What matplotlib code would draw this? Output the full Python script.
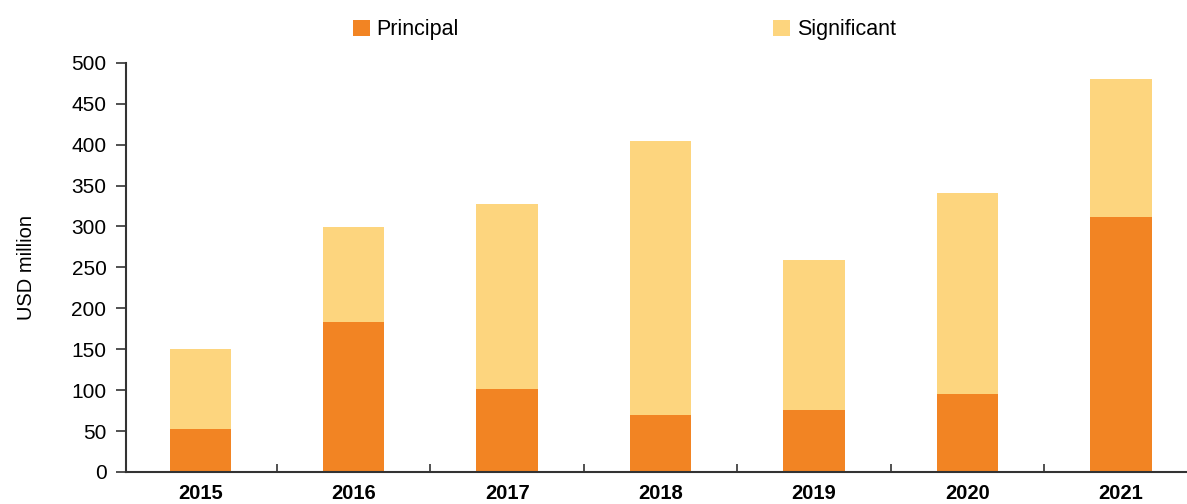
import numpy as np
import matplotlib.pyplot as plt
from matplotlib.ticker import FixedLocator

plt.rcParams['font.family'] = ['Liberation Sans', 'DejaVu Sans']

years = ['2015', '2016', '2017', '2018', '2019', '2020', '2021']
principal = [53, 183, 101, 70, 76, 95, 311]
significant = [97, 116, 227, 334, 183, 246, 169]

c_principal = '#F28423'
c_significant = '#FDD57E'

fig = plt.figure(figsize=(11.87, 5.04), dpi=100)
ax = fig.add_axes([0.106, 0.0635, 0.894, 0.812])

x = np.arange(len(years))
ax.bar(x, principal, width=0.4, color=c_principal, label='Principal')
ax.bar(x, significant, width=0.4, bottom=principal, color=c_significant, label='Significant')

ax.set_xlim(-0.485, 6.43)
ax.set_ylim(0, 500)
ax.set_yticks(np.arange(0, 501, 50))
ax.set_xticks(x)
ax.set_xticklabels(years, fontsize=14.5, fontweight='bold')
ax.xaxis.set_minor_locator(FixedLocator(np.arange(0.5, 6, 1)))
ax.tick_params(axis='x', which='major', length=0, pad=9)
ax.tick_params(axis='x', which='minor', direction='in', length=6, width=1.2, color='#333333')
ax.tick_params(axis='y', direction='out', length=7, width=1.2, color='#333333', labelsize=15, pad=7)
ax.set_ylabel('USD million', fontsize=14.5)
ax.yaxis.set_label_coords(-0.085, 0.5)

for s in ['top', 'right']:
    ax.spines[s].set_visible(False)
for s in ['left', 'bottom']:
    ax.spines[s].set_linewidth(1.5)
    ax.spines[s].set_color('#333333')

fig.legend(loc='upper center', bbox_to_anchor=(0.526, 1.0), ncol=2, frameon=False,
           fontsize=15.5, columnspacing=14.6, handlelength=0.8, handleheight=0.8, handletextpad=0.3)

fig.savefig('out.png', dpi=100)
